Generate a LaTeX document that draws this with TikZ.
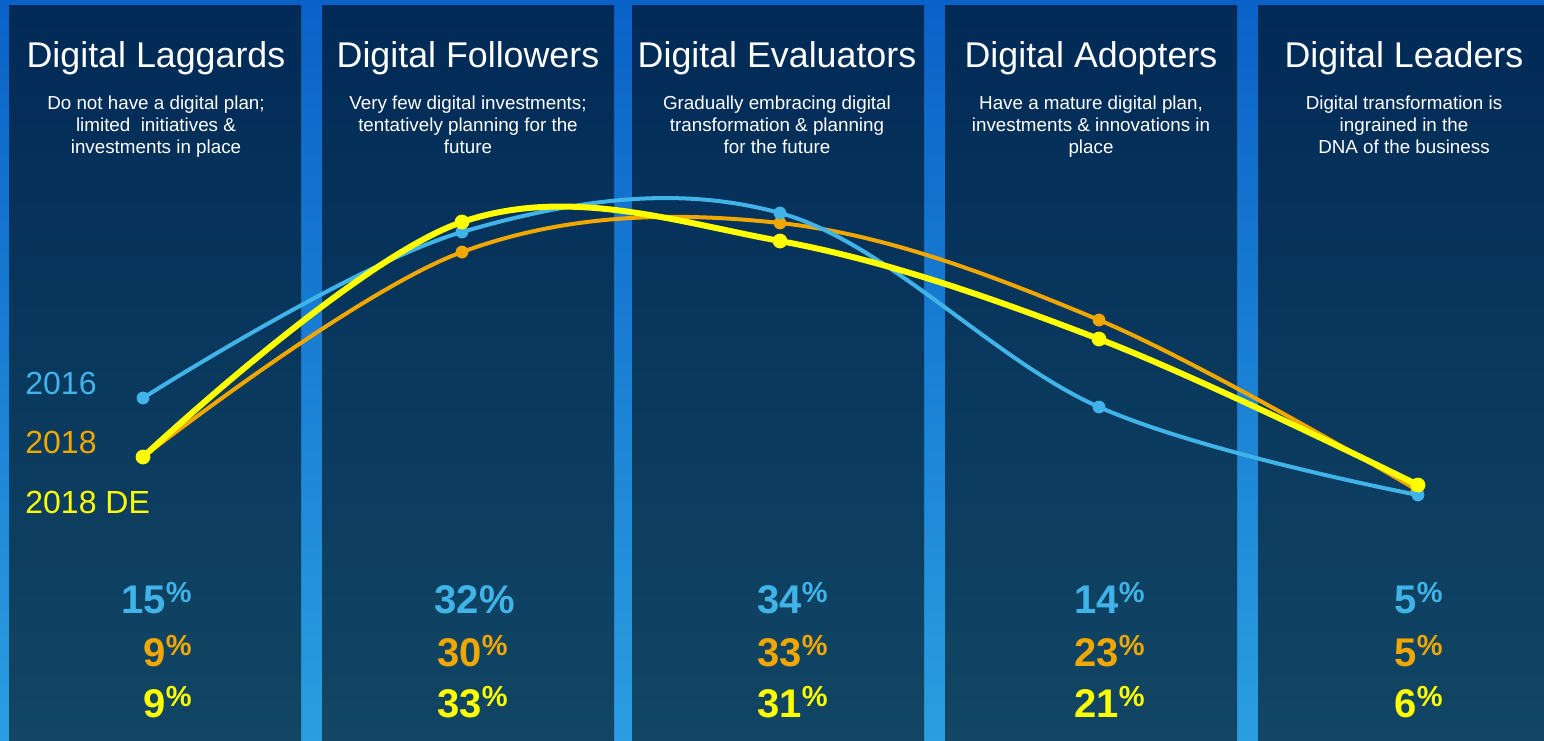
\documentclass[tikz,border=0pt]{standalone}
\usepackage{fontspec}
\setmainfont{Liberation Sans}
\definecolor{bgtop}{HTML}{0A62C8}
\definecolor{bgbot}{HTML}{2A9EE0}
\definecolor{pantop}{HTML}{012A57}
\definecolor{panbot}{HTML}{124664}
\definecolor{cOld}{HTML}{40B4E8}
\definecolor{cNew}{HTML}{F0A800}
\definecolor{cDE}{HTML}{FFFF00}
\newcommand{\pc}{\raisebox{5.5pt}{\fontsize{14.5}{14}\selectfont\%}}
\begin{document}
\begin{tikzpicture}[x=0.5pt, y=-0.5pt, line join=round, line cap=round,
  ttl/.style={font=\fontsize{17.9}{20}\selectfont, text=white, anchor=base, inner sep=0pt},
  sub/.style={font=\fontsize{9.4}{11}\selectfont, text=white, align=center, anchor=north, inner sep=0pt},
  pct/.style={font=\fontsize{20}{24}\bfseries\selectfont, anchor=base east, inner sep=0pt},
  yr/.style={font=\fontsize{16}{19}\selectfont, anchor=base west, inner sep=0pt}]
\useasboundingbox (0,0) rectangle (1544,740);
\fill[top color=bgtop, bottom color=bgbot] (0,0) rectangle (1544,740);
\foreach \l/\r in {9/301, 322/614, 632/924, 945/1237, 1258/1544}
  \fill[top color=pantop, bottom color=panbot] (\l,5) rectangle (\r,740);
% headers
\foreach \cx/\head/\txt [count=\i] in {
  156/Digital Laggards/{Do not have a digital plan;\\limited\ \ initiatives \&\\investments in place},
  468/Digital Followers/{Very few digital investments;\\tentatively planning for the\\future},
  777/Digital Evaluators/{Gradually embracing digital\\transformation \& planning\\for the future},
  1091/Digital Adopters/{Have a mature digital plan,\\investments \& innovations in\\place},
  1404/Digital Leaders/{Digital transformation is\\ingrained in the\\DNA of the business}}
{
  \node[ttl] (t\i) at (\cx,67) {\head};
  \node[sub] (s\i) at (\cx,95) {\txt};
}
% data points
\foreach \p [count=\i] in {{143,398},{462,232},{780,213},{1099,407},{1418,495}}
  \coordinate (a\i) at (\p);
\foreach \p [count=\i] in {{143,457},{462,252},{780,223},{1099,320},{1417,490}}
  \coordinate (b\i) at (\p);
\foreach \p [count=\i] in {{143,457},{462,222},{780,241},{1099,339},{1418,485}}
  \coordinate (c\i) at (\p);
\draw[cNew, line width=2pt] plot[smooth, tension=0.6] coordinates {(b1) (b2) (b3) (b4) (b5)};
\foreach \i in {1,...,5} \fill[cNew] (b\i) circle (3.2pt);
\draw[cOld, line width=2pt] plot[smooth, tension=0.6] coordinates {(a1) (a2) (a3) (a4) (a5)};
\foreach \i in {1,...,5} \fill[cOld] (a\i) circle (3.2pt);
\draw[cDE, line width=3pt] plot[smooth, tension=0.6] coordinates {(c1) (c2) (c3) (c4) (c5)};
\foreach \i in {1,...,5} \fill[cDE] (c\i) circle (3.7pt);
% legend
\node[yr, text=cOld] (y16) at (25,394) {2016};
\node[yr, text=cNew] (y18) at (25,453) {2018};
\node[yr, text=cDE] (yde) at (25,513) {2018 DE};
% shares
\node[pct, text=cOld] (p11) at (192,613) {15\pc};
\node[pct, text=cNew] (p12) at (192,666) {9\pc};
\node[pct, text=cDE]  (p13) at (192,717) {9\pc};
\node[pct, text=cOld] (p21) at (515,613) {32\%};
\node[pct, text=cNew] (p22) at (508,666) {30\pc};
\node[pct, text=cDE]  (p23) at (508,717) {33\pc};
\node[pct, text=cOld] (p31) at (828,613) {34\pc};
\node[pct, text=cNew] (p32) at (828,666) {33\pc};
\node[pct, text=cDE]  (p33) at (828,717) {31\pc};
\node[pct, text=cOld] (p41) at (1145,613) {14\pc};
\node[pct, text=cNew] (p42) at (1145,666) {23\pc};
\node[pct, text=cDE]  (p43) at (1145,717) {21\pc};
\node[pct, text=cOld] (p51) at (1443,613) {5\pc};
\node[pct, text=cNew] (p52) at (1443,666) {5\pc};
\node[pct, text=cDE]  (p53) at (1443,717) {6\pc};
\end{tikzpicture}
\end{document}
